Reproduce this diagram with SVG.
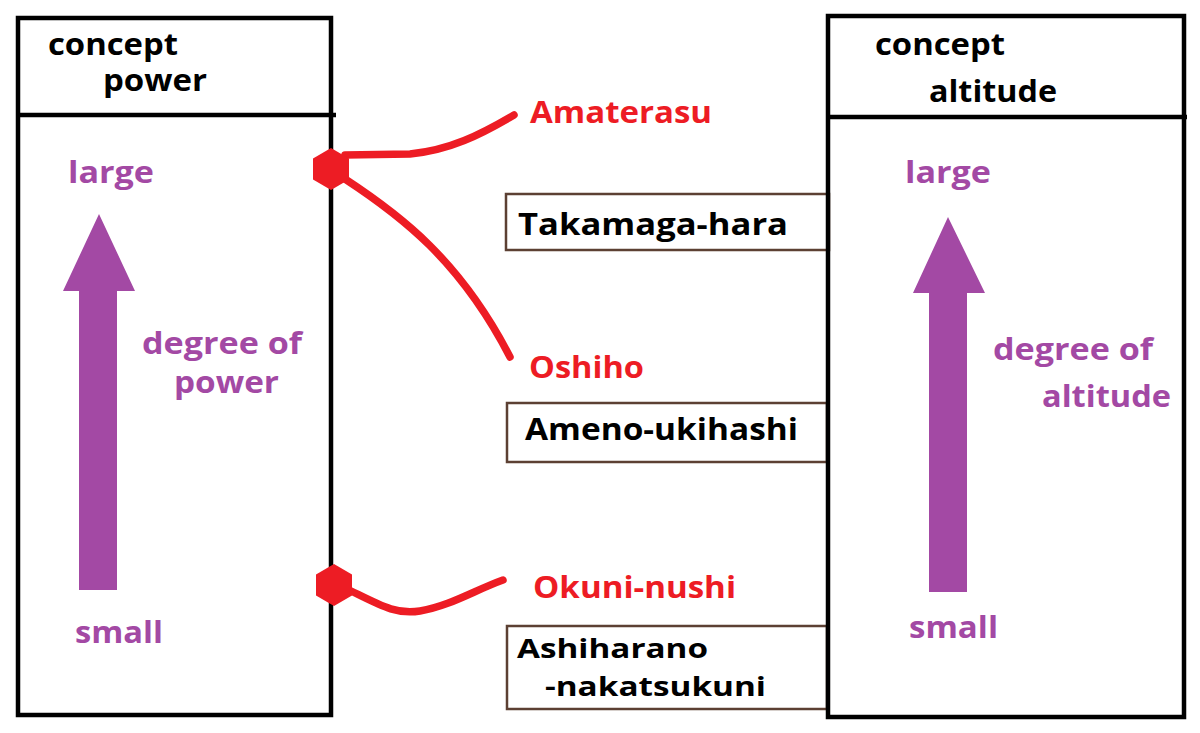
<svg xmlns="http://www.w3.org/2000/svg" width="1200" height="733" viewBox="0 0 1200 733">
<style>
  text { font-family: "Open Sans", "Liberation Sans", sans-serif; font-weight: bold; font-size: 30px; }
  .blk { fill: #000000; }
  .pur { fill: #A349A4; }
  .red { fill: #ED1C24; }
  .small2 { font-size: 27px; }
  .frame { fill: none; stroke: #000000; stroke-width: 4.5; }
  .place { fill: #ffffff; stroke: #5C4033; stroke-width: 2.5; }
  .arrow { fill: #A349A4; }
  .link { fill: none; stroke: #ED1C24; stroke-width: 7.5; stroke-linecap: round; }
  .hex { fill: #ED1C24; }
</style>
<rect width="1200" height="733" fill="#ffffff"/>

<g id="place-takamagahara">
  <rect class="place" x="506" y="194" width="323" height="56"/>
  <text class="blk" x="518" y="235" textLength="270" lengthAdjust="spacingAndGlyphs">Takamaga-hara</text>
</g>
<g id="place-amenoukihashi">
  <rect class="place" x="507" y="403" width="320" height="59"/>
  <text class="blk" x="525" y="440" textLength="273" lengthAdjust="spacingAndGlyphs">Ameno-ukihashi</text>
</g>
<g id="place-ashiharano">
  <rect class="place" x="507" y="626" width="320" height="83"/>
  <text class="blk small2" x="517" y="658" textLength="191" lengthAdjust="spacingAndGlyphs">Ashiharano</text>
  <text class="blk small2" x="545" y="696" textLength="221" lengthAdjust="spacingAndGlyphs">-nakatsukuni</text>
</g>

<g id="concept-power">
  <rect class="frame" x="18" y="18" width="313" height="697"/>
  <line x1="18" y1="115" x2="336" y2="115" stroke="#000" stroke-width="4.5"/>
  <text class="blk" x="48" y="55" textLength="130" lengthAdjust="spacingAndGlyphs">concept</text>
  <text class="blk" x="103" y="91" textLength="104" lengthAdjust="spacingAndGlyphs">power</text>
  <text class="pur" x="68" y="183" textLength="86" lengthAdjust="spacingAndGlyphs">large</text>
  <polygon class="arrow" points="99,214 135,291 117,291 117,590 79,590 79,291 63,291"/>
  <text class="pur" x="142" y="354" textLength="160" lengthAdjust="spacingAndGlyphs">degree of</text>
  <text class="pur" x="174" y="393" textLength="105" lengthAdjust="spacingAndGlyphs">power</text>
  <text class="pur" x="75" y="643" textLength="88" lengthAdjust="spacingAndGlyphs">small</text>
</g>

<g id="concept-altitude">
  <rect class="frame" x="828" y="16" width="356" height="701"/>
  <line x1="828" y1="117" x2="1187" y2="117" stroke="#000" stroke-width="4.5"/>
  <text class="blk" x="875" y="55" textLength="130" lengthAdjust="spacingAndGlyphs">concept</text>
  <text class="blk" x="929" y="102" textLength="128" lengthAdjust="spacingAndGlyphs">altitude</text>
  <text class="pur" x="905" y="183" textLength="86" lengthAdjust="spacingAndGlyphs">large</text>
  <polygon class="arrow" points="948,217 985,293 967,293 967,592 929,592 929,293 913,293"/>
  <text class="pur" x="993" y="360" textLength="160" lengthAdjust="spacingAndGlyphs">degree of</text>
  <text class="pur" x="1042" y="407" textLength="129" lengthAdjust="spacingAndGlyphs">altitude</text>
  <text class="pur" x="909" y="638" textLength="89" lengthAdjust="spacingAndGlyphs">small</text>
</g>

<g id="deity-amaterasu">
  <text class="red" x="530" y="123" textLength="182" lengthAdjust="spacingAndGlyphs">Amaterasu</text>
</g>
<g id="deity-oshiho">
  <text class="red" x="529" y="378" textLength="115" lengthAdjust="spacingAndGlyphs">Oshiho</text>
</g>
<g id="deity-okuninushi">
  <text class="red" x="533" y="598" textLength="203" lengthAdjust="spacingAndGlyphs">Okuni-nushi</text>
</g>

<g id="connectors">
  <path class="link" d="M345,155 L410,154 C450,150 480,135 514,115"/>
  <path class="link" d="M345,179 C400,215 460,260 510,357"/>
  <path class="link" d="M345,588 C380,605 395,615 420,611 C450,606 475,590 503,580"/>
  <polygon class="hex" points="331,148 349,158.5 349,179.5 331,190 313,179.5 313,158.5"/>
  <polygon class="hex" points="334,564 352,574.5 352,595.5 334,606 316,595.5 316,574.5"/>
</g>
</svg>
